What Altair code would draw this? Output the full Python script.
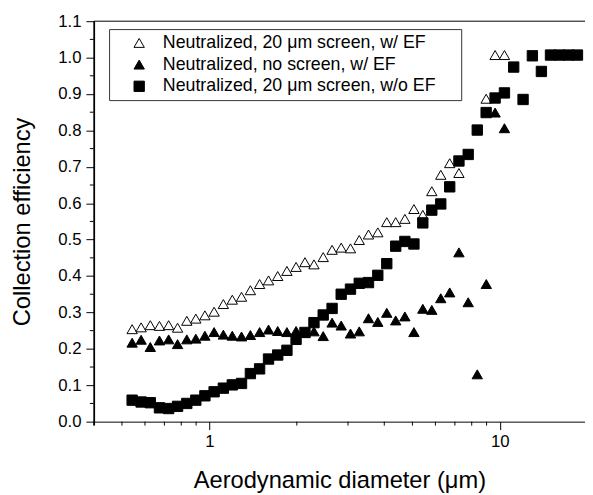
import altair as alt
import pandas as pd

FONT = "Liberation Sans"

labels = [
    "Neutralized, 20 \u03bcm screen, w/ EF",
    "Neutralized, no screen, w/ EF",
    "Neutralized, 20 \u03bcm screen, w/o EF",
]

# Series 1: open triangles
d1 = [0.542, 0.582, 0.626, 0.673, 0.724, 0.777, 0.836, 0.898, 0.965, 1.038,
      1.117, 1.199, 1.290, 1.384, 1.489, 1.598, 1.719, 1.849, 1.988, 2.133,
      2.291, 2.465, 2.645, 2.843, 3.06, 3.28, 3.53, 3.80, 4.08, 4.38,
      4.71, 5.06, 5.43, 5.83, 6.26, 6.72, 7.23, 8.97, 9.63, 10.37]
e1 = [0.254, 0.259, 0.265, 0.263, 0.265, 0.258, 0.277, 0.283, 0.292, 0.302,
      0.323, 0.335, 0.343, 0.361, 0.378, 0.388, 0.400, 0.414, 0.425, 0.438,
      0.432, 0.452, 0.472, 0.478, 0.476, 0.499, 0.514, 0.520, 0.548, 0.548,
      0.557, 0.584, 0.568, 0.633, 0.678, 0.710, 0.683, 0.887, 1.007, 1.007]

# Series 2: filled triangles
d2 = [0.542, 0.582, 0.626, 0.673, 0.724, 0.777, 0.836, 0.898, 0.965, 1.038,
      1.117, 1.199, 1.290, 1.384, 1.489, 1.598, 1.719, 1.849, 1.988, 2.133,
      2.291, 2.465, 2.645, 2.843, 3.06, 3.28, 3.53, 3.80, 4.08, 4.38,
      4.71, 5.06, 5.43, 5.83, 6.26, 6.72, 7.23, 7.78, 8.36, 8.98,
      9.63, 10.37]
e2 = [0.217, 0.225, 0.205, 0.223, 0.226, 0.213, 0.226, 0.228, 0.236, 0.246,
      0.239, 0.236, 0.234, 0.238, 0.246, 0.253, 0.249, 0.246, 0.249, 0.244,
      0.248, 0.235, 0.272, 0.264, 0.242, 0.248, 0.284, 0.274, 0.299, 0.278,
      0.289, 0.246, 0.310, 0.307, 0.339, 0.355, 0.465, 0.328, 0.130, 0.378,
      0.849, 0.806]

# Series 3: filled squares
d3 = [0.542, 0.582, 0.626, 0.673, 0.724, 0.777, 0.836, 0.898, 0.965, 1.038,
      1.117, 1.199, 1.290, 1.384, 1.489, 1.598, 1.719, 1.849, 1.988, 2.133,
      2.291, 2.465, 2.645, 2.843, 3.06, 3.28, 3.53, 3.80, 4.08, 4.38,
      4.71, 5.06, 5.43, 5.83, 6.26, 6.72, 7.23, 7.78, 8.36, 8.97,
      9.63, 10.37, 11.16, 12.02, 12.94, 13.9, 14.94, 16.05, 17.25, 18.5]
e3 = [0.059, 0.054, 0.052, 0.038, 0.036, 0.042, 0.050, 0.059, 0.071, 0.082,
      0.092, 0.101, 0.105, 0.132, 0.145, 0.172, 0.183, 0.196, 0.226, 0.245,
      0.272, 0.293, 0.311, 0.350, 0.364, 0.380, 0.382, 0.402, 0.434, 0.482,
      0.495, 0.488, 0.546, 0.581, 0.598, 0.645, 0.716, 0.734, 0.801, 0.849,
      0.889, 0.903, 0.974, 0.885, 1.005, 0.962, 1.007, 1.007, 1.007, 1.007]

x_major = [1, 10]
x_minor = [0.4, 0.5, 0.6, 0.7, 0.8, 0.9, 2, 3, 4, 5, 6, 7, 8, 9]
y_major = [0.0, 0.1, 0.2, 0.3, 0.4, 0.5, 0.6, 0.7, 0.8, 0.9, 1.0, 1.1]
y_minor = [0.05, 0.15, 0.25, 0.35, 0.45, 0.55, 0.65, 0.75, 0.85, 0.95, 1.05]
y_max_edge = [1.1]

rows = []
for lab, ds, es in zip(labels, [d1, d2, d3], [e1, e2, e3]):
    for d, e in zip(ds, es):
        rows.append({"d": d, "e": e, "series": lab})
df = pd.DataFrame(rows)

W, H = 498, 406
xscale = alt.Scale(type="log", domain=[0.4, 19.64], nice=False)
yscale = alt.Scale(domain=[0, 1.1], nice=False, zero=False)

xaxis = alt.Axis(values=x_major, format="d", tickSize=8, labelPadding=4,
                 domain=True, zindex=1,
                 title="Aerodynamic diameter (\u03bcm)", titlePadding=20)
yaxis = alt.Axis(values=y_major, format=".1f", tickSize=8, labelPadding=5,
                 domain=True, domainWidth=1.5, zindex=1,
                 labelOverlap=False, labelFlush=False,
                 title="Collection efficiency", titlePadding=24)

legend = alt.Legend(
    title=None, orient="none", legendX=16, legendY=8,
    strokeColor="transparent", fillColor="transparent", padding=5,
    labelFont=FONT, labelFontSize=18, labelColor="black", labelLimit=600,
    rowPadding=4, symbolOffset=16, labelOffset=15,
    symbolStrokeWidth=1,
)

# legend frame (drawn beneath the points)
frame = alt.Chart(pd.DataFrame({"k": [0]})).mark_rect(
    fill="white", stroke="#333333", strokeWidth=1).encode(
    x=alt.value(16), x2=alt.value(373), y=alt.value(8.5), y2=alt.value(80.5))

points = alt.Chart(df).mark_point(filled=True, strokeWidth=1, opacity=1).encode(
    x=alt.X("d:Q", scale=xscale, axis=xaxis),
    y=alt.Y("e:Q", scale=yscale, axis=yaxis),
    shape=alt.Shape("series:N", scale=alt.Scale(domain=labels, range=["triangle-up", "triangle-up", "square"]), legend=legend),
    fill=alt.Fill("series:N", scale=alt.Scale(domain=labels, range=["white", "black", "black"]), legend=legend),
    stroke=alt.Stroke("series:N", scale=alt.Scale(domain=labels, range=["black", "black", "black"]), legend=legend),
    size=alt.Size("series:N", scale=alt.Scale(domain=labels, range=[110, 110, 52]), legend=legend),
)

xmin = alt.Chart(pd.DataFrame({"d": x_minor})).mark_rule(color="black", strokeWidth=1).encode(
    x=alt.X("d:Q", scale=xscale, axis=xaxis), y=alt.value(H), y2=alt.value(H + 4))
ymin = alt.Chart(pd.DataFrame({"e": y_minor})).mark_rule(color="black", strokeWidth=1).encode(
    y=alt.Y("e:Q", scale=yscale, axis=yaxis), x=alt.value(0), x2=alt.value(-4))
top = alt.Chart(pd.DataFrame({"e": y_max_edge})).mark_rule(color="black", strokeWidth=1).encode(
    y=alt.Y("e:Q", scale=yscale, axis=yaxis))
left = alt.Chart(pd.DataFrame({"k": [0]})).mark_rule(color="black", strokeWidth=1.5).encode(
    x=alt.value(0.5), y=alt.value(0), y2=alt.value(H + 4))

chart = alt.layer(frame, points, xmin, ymin, top, left).properties(
    width=W, height=H,
    autosize=alt.AutoSizeParams(type="none"),
    padding={"left": 87, "top": 10, "right": 0, "bottom": 72},
).configure_view(stroke=None).configure_axis(
    domainColor="black", tickColor="black", labelColor="black", titleColor="black",
    labelFont=FONT, titleFont=FONT, labelFontSize=17, titleFontSize=24,
    titleFontWeight="normal", grid=False, tickWidth=1,
)

chart.save("out.html", embed_options={"renderer": "svg", "actions": False})
